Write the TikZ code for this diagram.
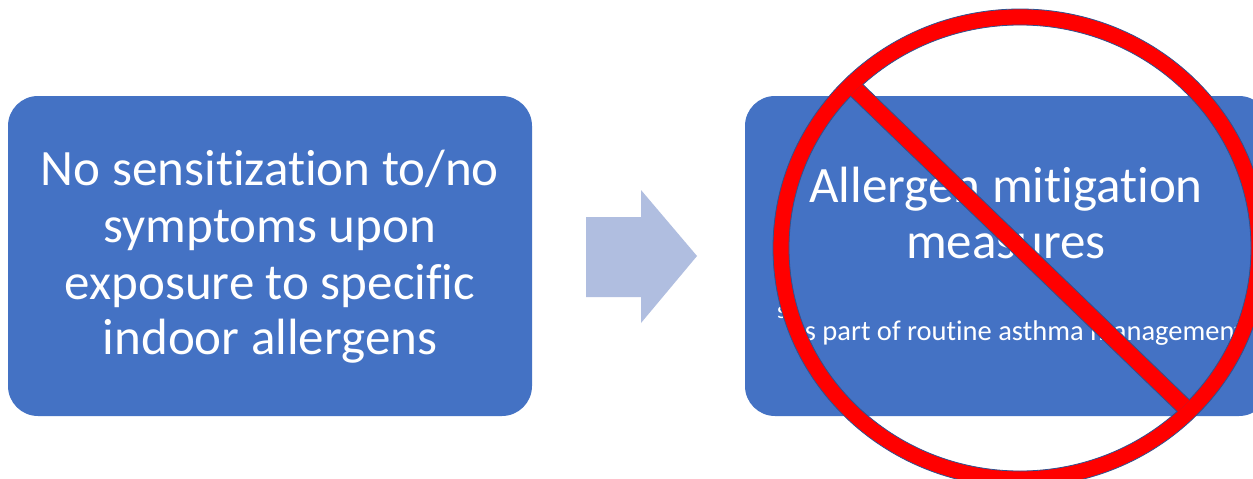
\documentclass[tikz,border=0pt]{standalone}
\usepackage{fontspec}
\setmainfont{Carlito}[Ligatures={NoCommon}]
\usetikzlibrary{calc}
\definecolor{boxblue}{HTML}{4472C4}
\definecolor{arrowblue}{HTML}{B0BEE0}
\definecolor{edgeblue}{HTML}{2F528F}
\definecolor{signred}{HTML}{FF0000}
\begin{document}
\begin{tikzpicture}[x=1pt,y=-1pt,
  bluebox/.style={fill=boxblue, draw=none, rounded corners=30pt, minimum width=524pt, minimum height=320pt, inner sep=0pt},
  bigtext/.style={text=white, align=center, font=\fontsize{51}{56}\selectfont, inner sep=0pt},
  smalltext/.style={text=white, font=\fontsize{28.5}{32}\selectfont, inner sep=0pt, anchor=base west}]
\useasboundingbox (0,0) rectangle (1253,479);
\fill[white] (0,0) rectangle (1253,479);
\clip (0,0) rectangle (1253,479);
% boxes
\node[bluebox] (left) at (270,256) {};
\node[bluebox] (right) at (1007,256) {};
% left text
\node[bigtext, anchor=base] (l1) at (270,185) {No sensitization to/no};
\node[bigtext, anchor=base] (l2) at (270,242) {symptoms upon};
\node[bigtext, anchor=base] (l3) at (270,299) {exposure to specific};
\node[bigtext, anchor=base] (l4) at (270,354) {indoor allergens};
% right text
\node[bigtext, anchor=base] (r1) at (1006,202) {Allergen mitigation};
\node[bigtext, anchor=base] (r2) at (1006,258) {measures};
\node[smalltext] (r3) at (791,340) {as part of routine asthma management};
\node[text=white, font=\fontsize{24}{26}\selectfont, inner sep=0pt, anchor=base west] (r0) at (777,318) {s};
% arrow
\path[fill=arrowblue] (586,217) -- (641,217) -- (641,190) -- (697,256) -- (641,323) -- (641,297) -- (586,297) -- cycle;
% prohibition sign
\coordinate (c) at (1020,248);
\path[fill=signred, draw=edgeblue, line width=0.8pt, even odd rule]
  (c) ellipse[x radius=247, y radius=239] (c) ellipse[x radius=231, y radius=223];
\begin{scope}
  \clip (c) ellipse[x radius=231.4, y radius=223.4];
  \path[fill=signred, draw=edgeblue, line width=0.8pt, rotate around={-44:(c)}]
    ($(c)+(-250,-8.5)$) rectangle ($(c)+(250,8.5)$);
\end{scope}
\end{tikzpicture}
\end{document}
